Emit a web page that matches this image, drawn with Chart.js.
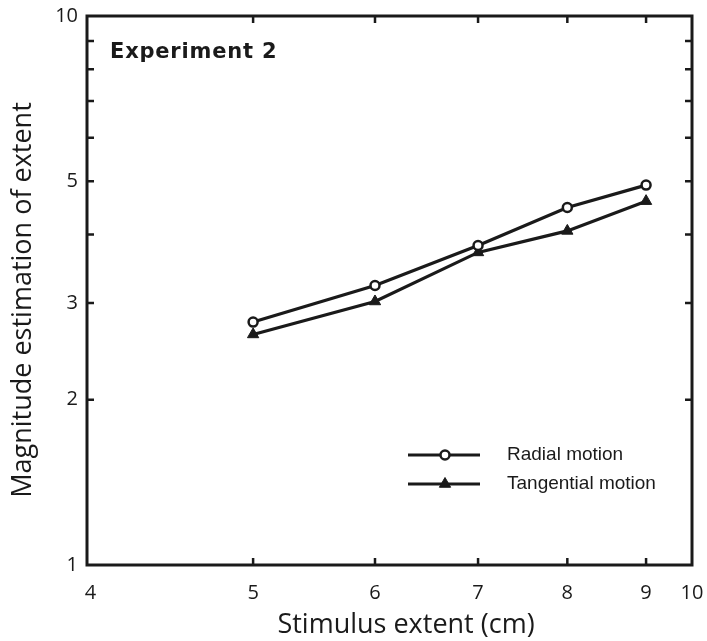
<!DOCTYPE html>
<html>
<head>
<meta charset="utf-8">
<script src="https://cdn.jsdelivr.net/npm/chart.js@4.4.0/dist/chart.umd.min.js"></script>
<style>
  body { margin: 0; background: #fff; }
  #wrap { width: 707px; height: 641px; }
</style>
</head>
<body>
<div id="wrap"><canvas id="chart"></canvas></div>
<script>
// data (log-log plot)
const stimulusExtent = [5, 6, 7, 8, 9];
const radialMotion = [2.77, 3.23, 3.82, 4.48, 4.92];
const tangentialMotion = [2.63, 3.02, 3.71, 4.06, 4.60];
const seriesLabels = ['Radial motion', 'Tangential motion'];

// x axis as printed: the ends carry "4" and "10", scale fitted to the 5..9 ticks
const xRange = [3.92, 9.64];
const xMarks = [5, 6, 7, 8, 9];
const xTickLabels = ['4', '5', '6', '7', '8', '9', '10'];
const yRange = [1, 10];
const yTickValues = [1, 2, 3, 5, 10];
const yTickLabels = ['1', '2', '3', '5', '10'];
const yMarks = [2, 3, 4, 5, 6, 7, 8, 9];

const ink = '#1a1a1a';
const tickFont = { family: '"Open Sans", sans-serif', size: 20 };

const toPoints = (ys) => stimulusExtent.map((x, i) => ({ x, y: ys[i] }));

// рамка, внутренние засечки, подписи осей, легенда
const framePlugin = {
  id: 'frame',
  afterDraw(chart) {
    const { ctx, chartArea: a, scales } = chart;
    ctx.save();
    ctx.strokeStyle = ink;
    ctx.lineWidth = 3;
    ctx.strokeRect(a.left, a.top, a.right - a.left, a.bottom - a.top);

    ctx.lineWidth = 2.5;
    const len = 7;
    ctx.beginPath();
    xMarks.forEach((v) => {
      const px = scales.x.getPixelForValue(v);
      ctx.moveTo(px, a.bottom); ctx.lineTo(px, a.bottom - len);
      ctx.moveTo(px, a.top); ctx.lineTo(px, a.top + len);
    });
    yMarks.forEach((v) => {
      const py = scales.y.getPixelForValue(v);
      ctx.moveTo(a.left, py); ctx.lineTo(a.left + len, py);
      ctx.moveTo(a.right, py); ctx.lineTo(a.right - len, py);
    });
    ctx.stroke();

    ctx.fillStyle = ink;
    ctx.font = '27px "Open Sans", sans-serif';
    ctx.textAlign = 'center';
    ctx.textBaseline = 'middle';
    ctx.fillText('Stimulus extent (cm)', 406, 625);
    ctx.save();
    ctx.translate(23, 300);
    ctx.rotate(-Math.PI / 2);
    ctx.fillText('Magnitude estimation of extent', 0, 0);
    ctx.restore();

    ctx.textAlign = 'left';
    ctx.textBaseline = 'alphabetic';
    ctx.font = 'bold 21px "DejaVu Sans", sans-serif';
    ctx.letterSpacing = '0.8px';
    ctx.fillText('Experiment 2', 110, 58);
    ctx.letterSpacing = '0px';

    // legend
    ctx.font = '19px "Liberation Sans", Arial, sans-serif';
    ctx.textBaseline = 'middle';
    chart.data.datasets.forEach((ds, i) => {
      const y = 455 + 29 * i;
      ctx.strokeStyle = ds.borderColor;
      ctx.lineWidth = 2.8;
      ctx.beginPath();
      ctx.moveTo(408, y); ctx.lineTo(480, y);
      ctx.stroke();
      ctx.fillStyle = ds.pointBackgroundColor;
      ctx.lineWidth = ds.pointBorderWidth;
      Chart.helpers.drawPoint(ctx, {
        pointStyle: ds.pointStyle, radius: ds.pointRadius,
        borderWidth: ds.pointBorderWidth, rotation: 0,
      }, 445, y);
      ctx.fillStyle = ink;
      ctx.fillText(ds.label, 507, y);
    });
    ctx.restore();
  },
};

new Chart(document.getElementById('chart'), {
  type: 'line',
  data: {
    datasets: [{
      label: seriesLabels[0],
      data: toPoints(radialMotion),
      borderColor: ink,
      borderWidth: 3.2,
      pointStyle: 'circle',
      pointRadius: 4.5,
      pointBorderWidth: 2.5,
      pointBackgroundColor: '#fff',
      pointBorderColor: ink,
    }, {
      label: seriesLabels[1],
      data: toPoints(tangentialMotion),
      borderColor: ink,
      borderWidth: 3.2,
      pointStyle: 'triangle',
      pointRadius: 6.5,
      pointBorderWidth: 1,
      pointBackgroundColor: ink,
      pointBorderColor: ink,
    }],
  },
  options: {
    responsive: true,
    maintainAspectRatio: false,
    animation: false,
    events: [],
    layout: { padding: { left: 0, right: 15, top: 16, bottom: 0 } },
    plugins: { legend: { display: false }, tooltip: { enabled: false } },
    scales: {
      x: {
        type: 'logarithmic',
        min: xRange[0],
        max: xRange[1],
        grid: { display: false, drawTicks: false },
        border: { display: false },
        ticks: {
          font: tickFont, color: ink, padding: 16, maxRotation: 0, autoSkip: false,
          callback: (v, i) => xTickLabels[i],
        },
        afterBuildTicks: (s) => { s.ticks = [xRange[0], ...xMarks, xRange[1]].map((value) => ({ value })); },
        afterFit: (s) => { s.height = 76; s.paddingLeft = 0; s.paddingRight = 0; },
      },
      y: {
        type: 'logarithmic',
        min: yRange[0],
        max: yRange[1],
        grid: { display: false, drawTicks: false },
        border: { display: false },
        ticks: {
          font: tickFont, color: ink, padding: 9, autoSkip: false,
          callback: (v, i) => yTickLabels[i],
        },
        afterBuildTicks: (s) => { s.ticks = yTickValues.map((value) => ({ value })); },
        afterFit: (s) => { s.width = 87; s.paddingTop = 0; s.paddingBottom = 0; },
      },
    },
  },
  plugins: [framePlugin],
});
</script>
</body>
</html>
